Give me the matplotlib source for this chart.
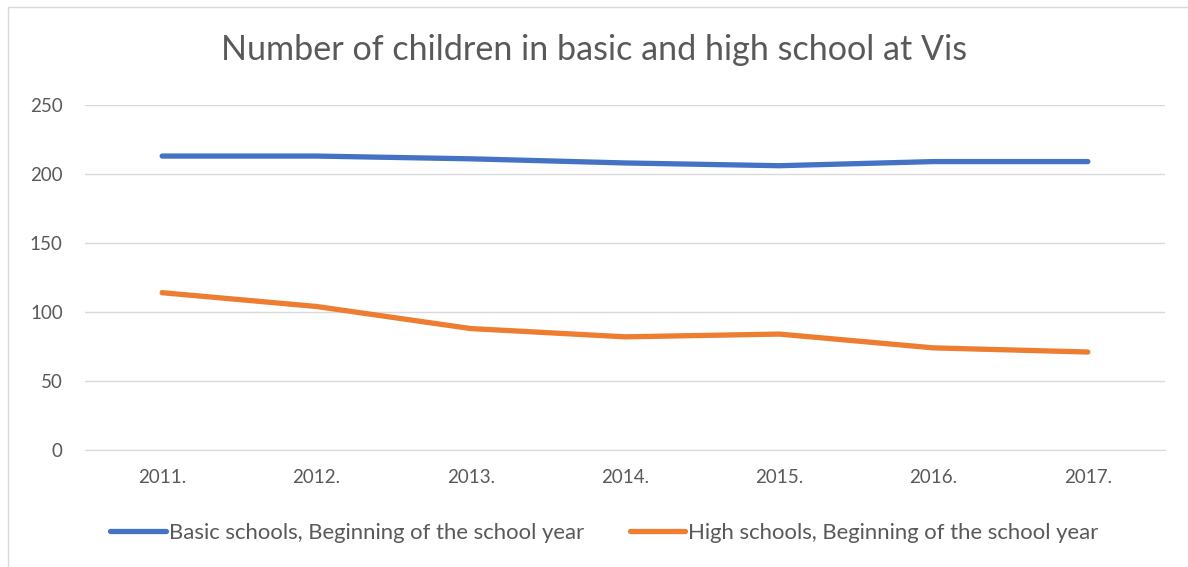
import matplotlib
matplotlib.use("Agg")
import matplotlib.pyplot as plt
from matplotlib.patches import Rectangle

years = ["2011.", "2012.", "2013.", "2014.", "2015.", "2016.", "2017."]
basic = [213, 213, 211, 208, 206, 209, 209]
high = [114, 104, 88, 82, 84, 74, 71]
yticks = [0, 50, 100, 150, 200, 250]

W, H = 1188, 567
fig = plt.figure(figsize=(W / 100, H / 100), dpi=100)
plt.rcParams['font.family'] = ['Lato', 'DejaVu Sans']

# axes: left 85, right 1165, bottom 450 (y=0), top 105 (y=250)
ax = fig.add_axes([85 / W, 1 - 450 / H, (1165 - 85) / W, (450 - 105) / H])
x = list(range(len(years)))
ax.plot(x, basic, color="#4472C4", lw=3.8, solid_capstyle="round",
        label="Basic schools, Beginning of the school year")
ax.plot(x, high, color="#ED7D31", lw=3.8, solid_capstyle="round",
        label="High schools, Beginning of the school year")
ax.set_xlim(-0.5, len(years) - 0.5)
ax.set_ylim(0, 250)
ax.set_yticks(yticks)
ax.set_xticks(x)
ax.set_xticklabels(years)
ax.grid(axis="y", color="#d9d9d9", lw=1)
ax.set_axisbelow(True)
for s in ["top", "right", "left"]:
    ax.spines[s].set_visible(False)
ax.spines["bottom"].set_color("#d9d9d9")
ax.tick_params(length=0, colors="#595959", labelsize=13.5)
ax.tick_params(axis="x", pad=14)
ax.tick_params(axis="y", pad=16)

fig.text(0.5, 1 - 50 / H, "Number of children in basic and high school at Vis",
         ha="center", va="center", fontsize=24.6, color="#595959")

leg = fig.legend(loc="center", bbox_to_anchor=(604.5 / W, 1 - 533 / H), ncol=2,
                 frameon=False, fontsize=15.9, handlelength=2.5,
                 handletextpad=0.14, columnspacing=2.1)
for t in leg.get_texts():
    t.set_color("#595959")

fig.patches.append(Rectangle((8 / W, -0.01), 1.2, 1 - 7 / H + 0.01,
                             transform=fig.transFigure, fill=False,
                             edgecolor="#d9d9d9", lw=1))

fig.savefig("out.png", dpi=100)
